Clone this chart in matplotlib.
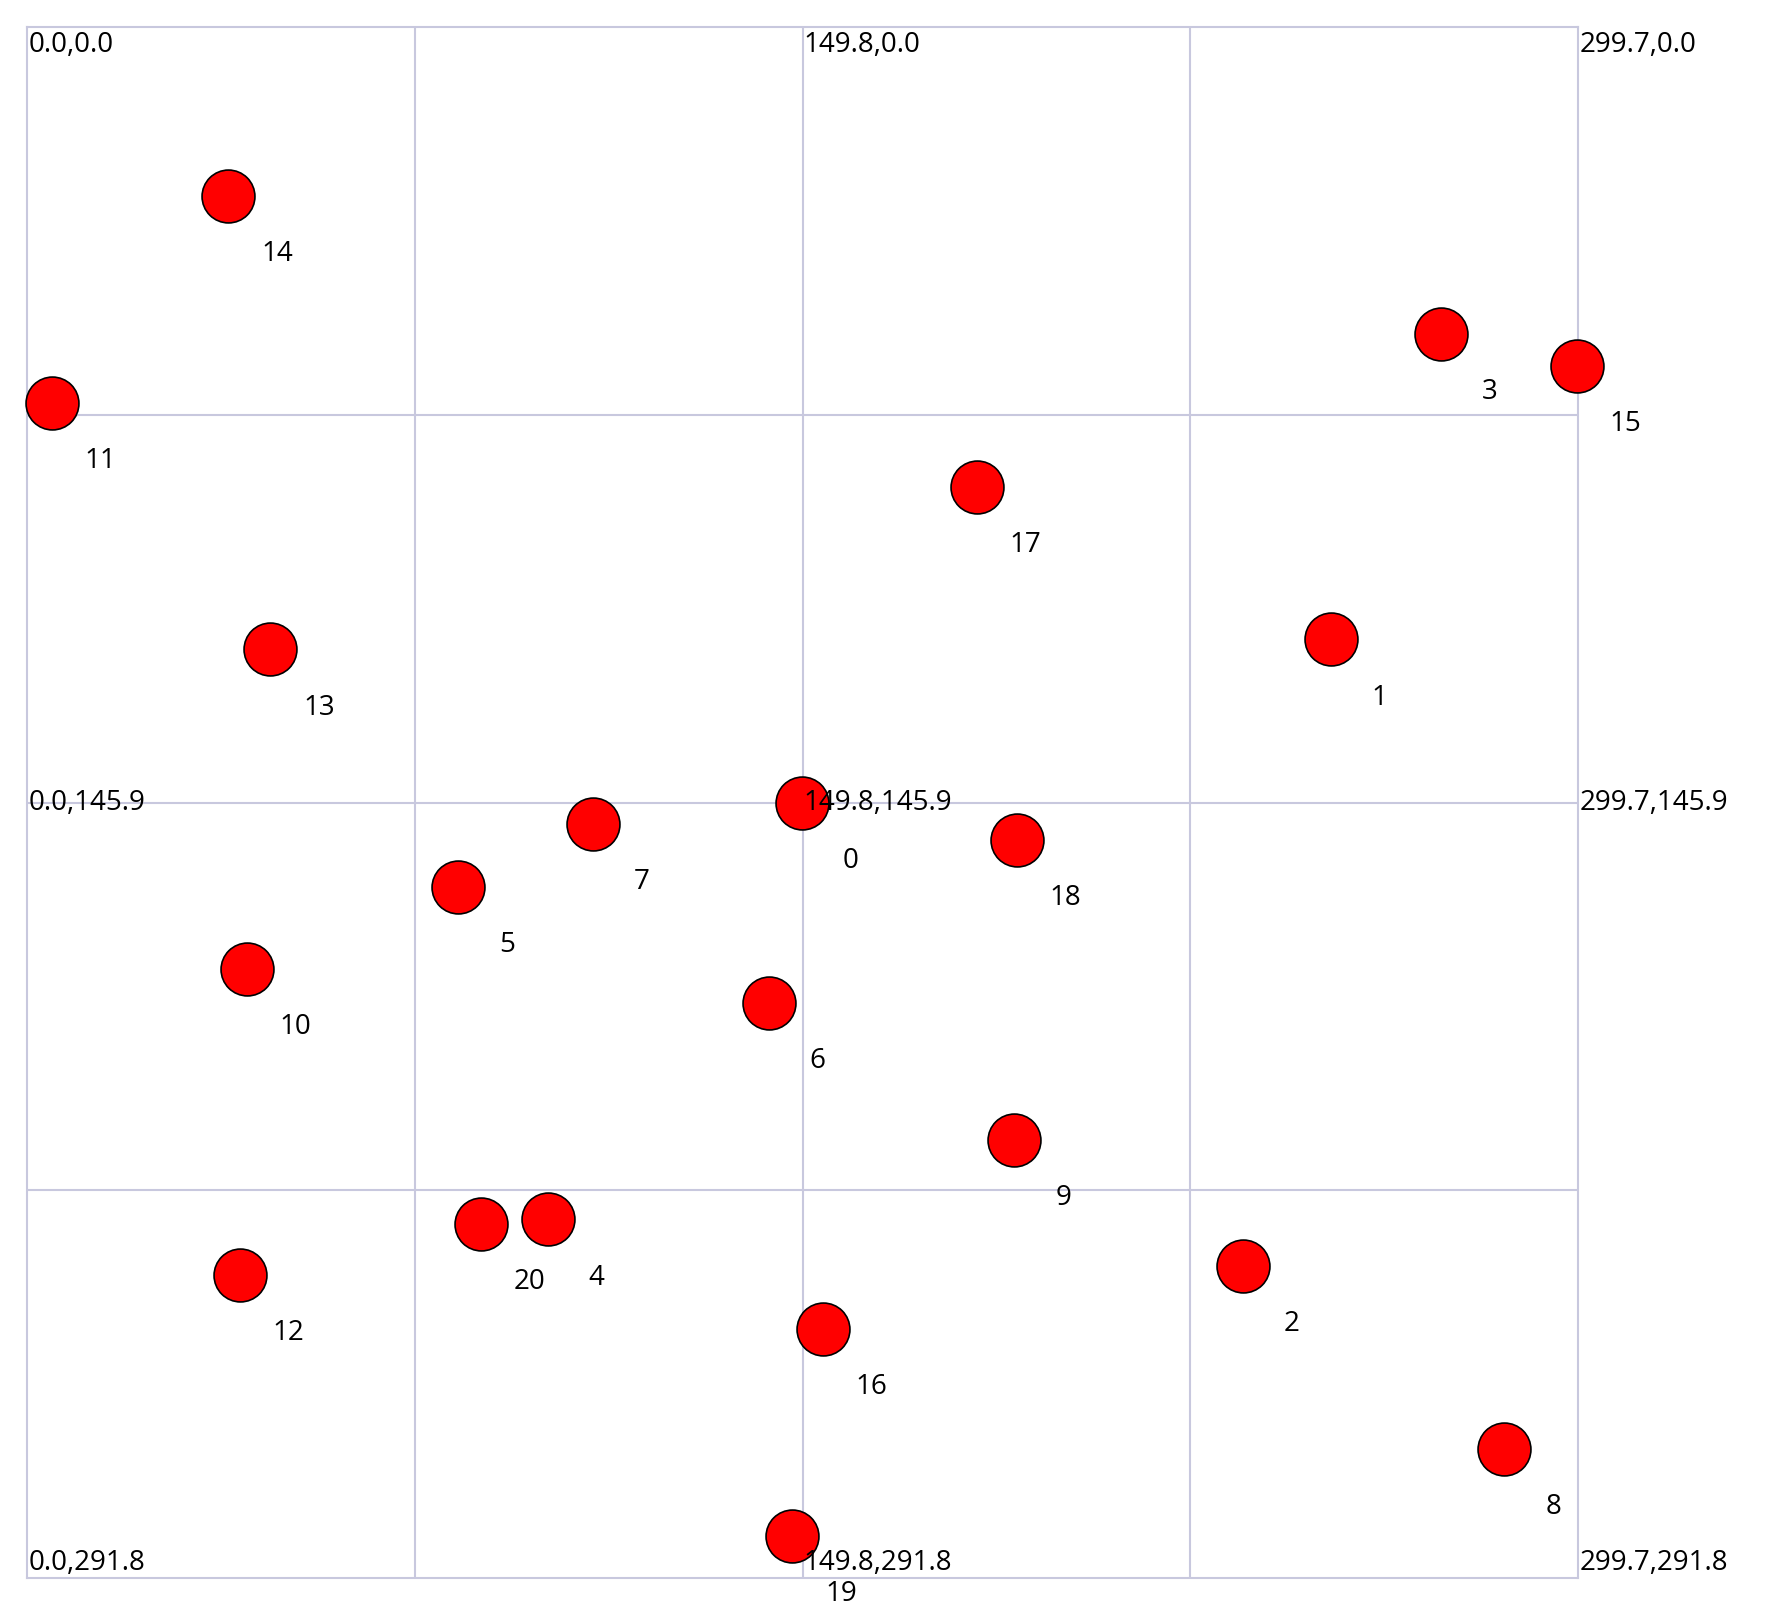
import matplotlib.pyplot as plt

plt.rcParams['font.family'] = ['Open Sans', 'DejaVu Sans']

# node positions (x, y), y grows downward
ids = list(range(21))
xs = [149.8, 252.0, 234.9, 273.2, 100.6, 83.3, 143.3, 109.4, 285.5, 190.8, 42.4,
      4.8, 41.1, 47.0, 38.9, 299.5, 153.8, 183.5, 191.2, 147.9, 87.7]
ys = [145.9, 115.2, 233.0, 57.7, 224.3, 161.7, 183.6, 149.9, 267.5, 209.4, 177.2,
      70.7, 234.7, 117.1, 31.7, 63.7, 244.9, 86.5, 152.9, 283.9, 225.1]

W, H = 299.7, 291.8
corner_x = [0.0, 149.8, 299.7]
corner_y = [0.0, 145.9, 291.8]

fig = plt.figure(figsize=(17.75, 16.23), dpi=100)
ax = fig.add_axes([0.0153, 0.0277, 0.8737, 0.9556])
ax.set_xlim(0, W)
ax.set_ylim(H, 0)
ax.set_xticks([])
ax.set_yticks([])
gc = '#c8c8de'
for s in ax.spines.values():
    s.set_color(gc)
    s.set_linewidth(1.5)
for i in range(1, 4):
    ax.axvline(W * i / 4, color=gc, lw=1.5, zorder=0)
    ax.axhline(H * i / 4, color=gc, lw=1.5, zorder=0)

ax.scatter(xs, ys, s=1450, c='#ff0000', edgecolors='black', linewidths=1.2,
           zorder=3, clip_on=False)
for i, x, y in zip(ids, xs, ys):
    ax.annotate(str(i), (x, y), xytext=(35, -42), textcoords='offset points',
                fontsize=20, ha='center', va='center', zorder=4,
                annotation_clip=False)

for cy, va, dy in zip(corner_y, ['top', 'center', 'bottom'], [-3, 0, 1]):
    for cx in corner_x:
        ax.annotate(f'{cx:.1f},{cy:.1f}', (cx, cy), xytext=(1, dy),
                    textcoords='offset points', fontsize=20, ha='left', va=va,
                    zorder=5, annotation_clip=False)

fig.savefig('out.png')
